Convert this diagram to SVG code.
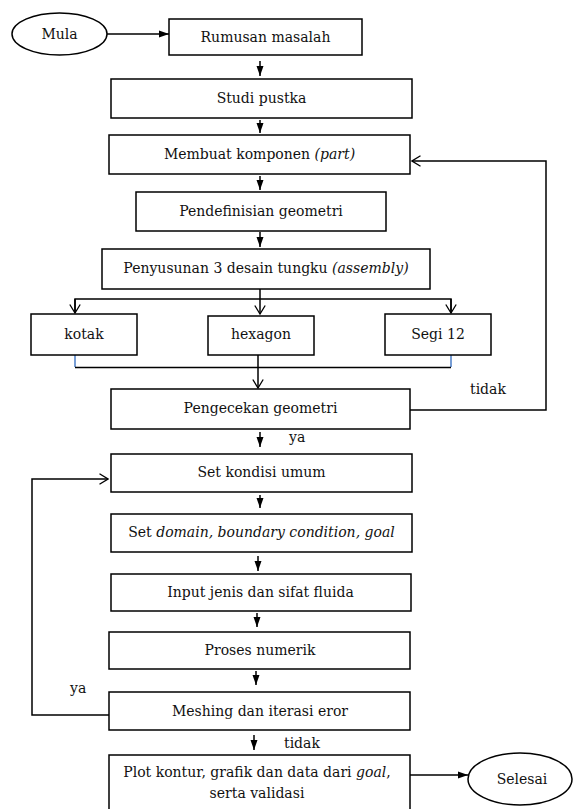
<svg xmlns="http://www.w3.org/2000/svg" width="574" height="809" viewBox="0 0 574 809">
<defs>
<marker id="fill" markerUnits="userSpaceOnUse" markerWidth="10" markerHeight="10" viewBox="0 0 10 10" refX="10" refY="5" orient="auto">
<path d="M0,1.5 L10,5 L0,8.5 Z" fill="#000"/>
</marker>
<marker id="open" markerUnits="userSpaceOnUse" markerWidth="10" markerHeight="12" viewBox="0 0 10 12" refX="9" refY="6" orient="auto">
<path d="M0.5,0.8 L9,6 L0.5,11.2" fill="none" stroke="#000" stroke-width="1.3"/>
</marker>
<style>
.box{fill:#fff;stroke:#000;stroke-width:1.5}
.t{font-family:"DejaVu Serif","Liberation Serif",serif;font-size:14px;fill:#111;text-anchor:middle}
.l{font-family:"DejaVu Serif","Liberation Serif",serif;font-size:14px;fill:#111}
.c{fill:none;stroke:#000;stroke-width:1.5}
.cf{fill:none;stroke:#000;stroke-width:1.5;marker-end:url(#fill)}
.co{fill:none;stroke:#000;stroke-width:1.5;marker-end:url(#open)}
.blue{fill:none;stroke:#4a7cc7;stroke-width:1.5}
</style>
</defs>
<rect width="574" height="809" fill="#fff"/>
<g id="connectors">
<line class="cf" x1="107" y1="34" x2="169" y2="34"/>
<line class="cf" x1="260" y1="61" x2="260" y2="76"/>
<line class="cf" x1="260" y1="120" x2="260" y2="133"/>
<line class="cf" x1="260" y1="176" x2="260" y2="190"/>
<line class="cf" x1="260" y1="232" x2="260" y2="247"/>
<line class="co" x1="260" y1="289" x2="260" y2="314"/>
<polyline class="c" points="75,313 75,299 451,299 451,313"/>
<line class="co" x1="75" y1="299" x2="75" y2="313"/>
<line class="co" x1="451" y1="299" x2="451" y2="313"/>
<line class="blue" x1="75" y1="355" x2="75" y2="367"/>
<line class="blue" x1="451" y1="355" x2="451" y2="367"/>
<line class="c" x1="75" y1="367.5" x2="451" y2="367.5"/>
<line class="co" x1="258" y1="355" x2="258" y2="388"/>
<polyline class="co" points="410,410 546,410 546,161 412,161"/>
<line class="cf" x1="260" y1="432" x2="260" y2="447"/>
<line class="cf" x1="260" y1="495" x2="260" y2="508"/>
<line class="cf" x1="258" y1="556" x2="258" y2="571"/>
<line class="cf" x1="257" y1="613" x2="257" y2="627"/>
<line class="cf" x1="256" y1="671" x2="256" y2="685"/>
<polyline class="co" points="109,715 32,715 32,479 108,479"/>
<line class="cf" x1="254" y1="735" x2="254" y2="750"/>
<line class="cf" x1="410" y1="775" x2="468" y2="775"/>
<text class="l" x="470" y="394">tidak</text>
<text class="l" x="289" y="442">ya</text>
<text class="l" x="70" y="693">ya</text>
<text class="l" x="284" y="748">tidak</text>
</g>
<g id="mula">
<ellipse class="box" cx="59.5" cy="34" rx="47.5" ry="21"/>
<text class="t" x="59.5" y="39">Mula</text>
</g>
<g id="rumusan">
<rect class="box" x="169" y="19" width="193" height="36"/>
<text class="t" x="265.5" y="42">Rumusan masalah</text>
</g>
<g id="studi">
<rect class="box" x="111" y="79" width="301" height="39"/>
<text class="t" x="261.5" y="103">Studi pustka</text>
</g>
<g id="membuat">
<rect class="box" x="109" y="135" width="301" height="39"/>
<text class="t" x="259.5" y="159">Membuat komponen <tspan font-style="italic">(part)</tspan></text>
</g>
<g id="pendefinisian">
<rect class="box" x="136" y="192" width="250" height="39"/>
<text class="t" x="261" y="216">Pendefinisian geometri</text>
</g>
<g id="penyusunan">
<rect class="box" x="102" y="249" width="328" height="40"/>
<text class="t" x="266" y="273">Penyusunan 3 desain tungku <tspan font-style="italic">(assembly)</tspan></text>
</g>
<g id="kotak">
<rect class="box" x="31" y="314" width="106" height="41"/>
<text class="t" x="84" y="339">kotak</text>
</g>
<g id="hexagon">
<rect class="box" x="208" y="316" width="106" height="39"/>
<text class="t" x="261" y="339">hexagon</text>
</g>
<g id="segi12">
<rect class="box" x="385" y="314" width="106" height="41"/>
<text class="t" x="438" y="339">Segi 12</text>
</g>
<g id="pengecekan">
<rect class="box" x="111" y="389" width="299" height="40"/>
<text class="t" x="260.5" y="413">Pengecekan geometri</text>
</g>
<g id="setkondisi">
<rect class="box" x="111" y="454" width="301" height="38"/>
<text class="t" x="261.5" y="477">Set kondisi umum</text>
</g>
<g id="setdomain">
<rect class="box" x="111" y="514" width="301" height="38"/>
<text class="t" x="261.5" y="537">Set <tspan font-style="italic">domain, boundary condition, goal</tspan></text>
</g>
<g id="input">
<rect class="box" x="111" y="574" width="300" height="37"/>
<text class="t" x="260.5" y="597">Input jenis dan sifat fluida</text>
</g>
<g id="proses">
<rect class="box" x="109" y="632" width="301" height="37"/>
<text class="t" x="260" y="655">Proses numerik</text>
</g>
<g id="meshing">
<rect class="box" x="109" y="692" width="301" height="38"/>
<text class="t" x="260" y="716">Meshing dan iterasi eror</text>
</g>
<g id="plot">
<rect class="box" x="109" y="755" width="301" height="60"/>
<text class="t" x="257" y="777">Plot kontur, grafik dan data dari <tspan font-style="italic">goal</tspan>,</text>
<text class="t" x="257" y="798">serta validasi</text>
</g>
<g id="selesai">
<ellipse class="box" cx="520" cy="779" rx="52" ry="26"/>
<text class="t" x="522" y="784">Selesai</text>
</g>
</svg>
